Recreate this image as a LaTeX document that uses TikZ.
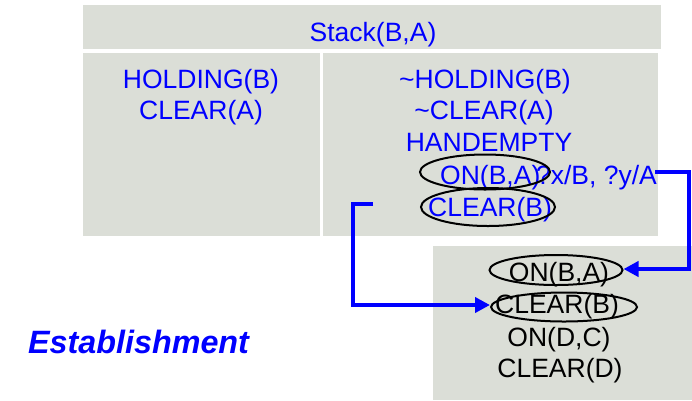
\documentclass[tikz,border=0pt]{standalone}
\usepackage{fontspec}
\setmainfont{Liberation Sans}
\usetikzlibrary{shapes.geometric,arrows.meta}
\definecolor{cellgray}{RGB}{219,222,215}
\definecolor{txtblue}{RGB}{0,0,255}
\tikzset{
  cell/.style={fill=cellgray,draw=none},
  lbl/.style={inner sep=0pt,anchor=base,font=\fontsize{26.5}{32}\selectfont},
  bl/.style={lbl,text=txtblue},
  bk/.style={lbl,text=black},
  oval/.style={draw=black,line width=2pt,ellipse,inner sep=0pt},
  link/.style={draw=txtblue,line width=4pt,-{Triangle[length=15pt,width=15pt]}},
}
\begin{document}
\begin{tikzpicture}[x=1pt,y=-1pt]
\useasboundingbox (0,0) rectangle (692,400);
% boxes
\fill[cell] (83,5) rectangle (661,49);
\fill[cell] (83,53) rectangle (320,236);
\fill[cell] (323,53) rectangle (658,236);
\fill[cell] (433,246) rectangle (692,400);
% header
\node[bl] (stack) at (373,41) {Stack(B,A)};
% left cell
\node[bl] (hold) at (201,88) {HOLDING(B)};
\node[bl] (clra) at (201,119) {CLEAR(A)};
% right cell
\node[bl] (nhold) at (485,88) {\textasciitilde HOLDING(B)};
\node[bl] (nclra) at (484,119) {\textasciitilde CLEAR(A)};
\node[bl] (hemp) at (489,151) {HANDEMPTY};
\node[bl,anchor=base west] (onba) at (440,184) {ON(B,A)};
\node[bl,anchor=base east] (subst) at (657,184) {?x/B, ?y/A};
\node[bl,anchor=base west] (clrb) at (428,216) {CLEAR(B)};
\node[oval,minimum width=130pt,minimum height=35pt] (e1) at (485,172) {};
\node[oval,minimum width=134pt,minimum height=38pt] (e2) at (488,207) {};
% bottom box
\node[bk] (bonba) at (559,281) {ON(B,A)};
\node[bk] (bclrb) at (557,313) {CLEAR(B)};
\node[bk] (bondc) at (559,346) {ON(D,C)};
\node[bk] (bclrd) at (560,377) {CLEAR(D)};
\node[oval,minimum width=133pt,minimum height=30pt] (e3) at (556,270) {};
\node[oval,minimum width=146pt,minimum height=29pt] (e4) at (564,307) {};
% label
\node[inner sep=0pt,anchor=base west,text=txtblue,font=\fontsize{32.3}{38}\selectfont\bfseries\itshape] (estab) at (28,353) {Establishment};
% connectors
\coordinate (s1) at (655,172);
\coordinate (s2) at (373,203.5);
\draw[link] (s1) -- (689,172) -- (689,269) -- (e3.east |- 0,269);
\draw[link] (s2) -- (353,203.5) -- (353,305) -- (e4.west |- 0,305);
\end{tikzpicture}
\end{document}
